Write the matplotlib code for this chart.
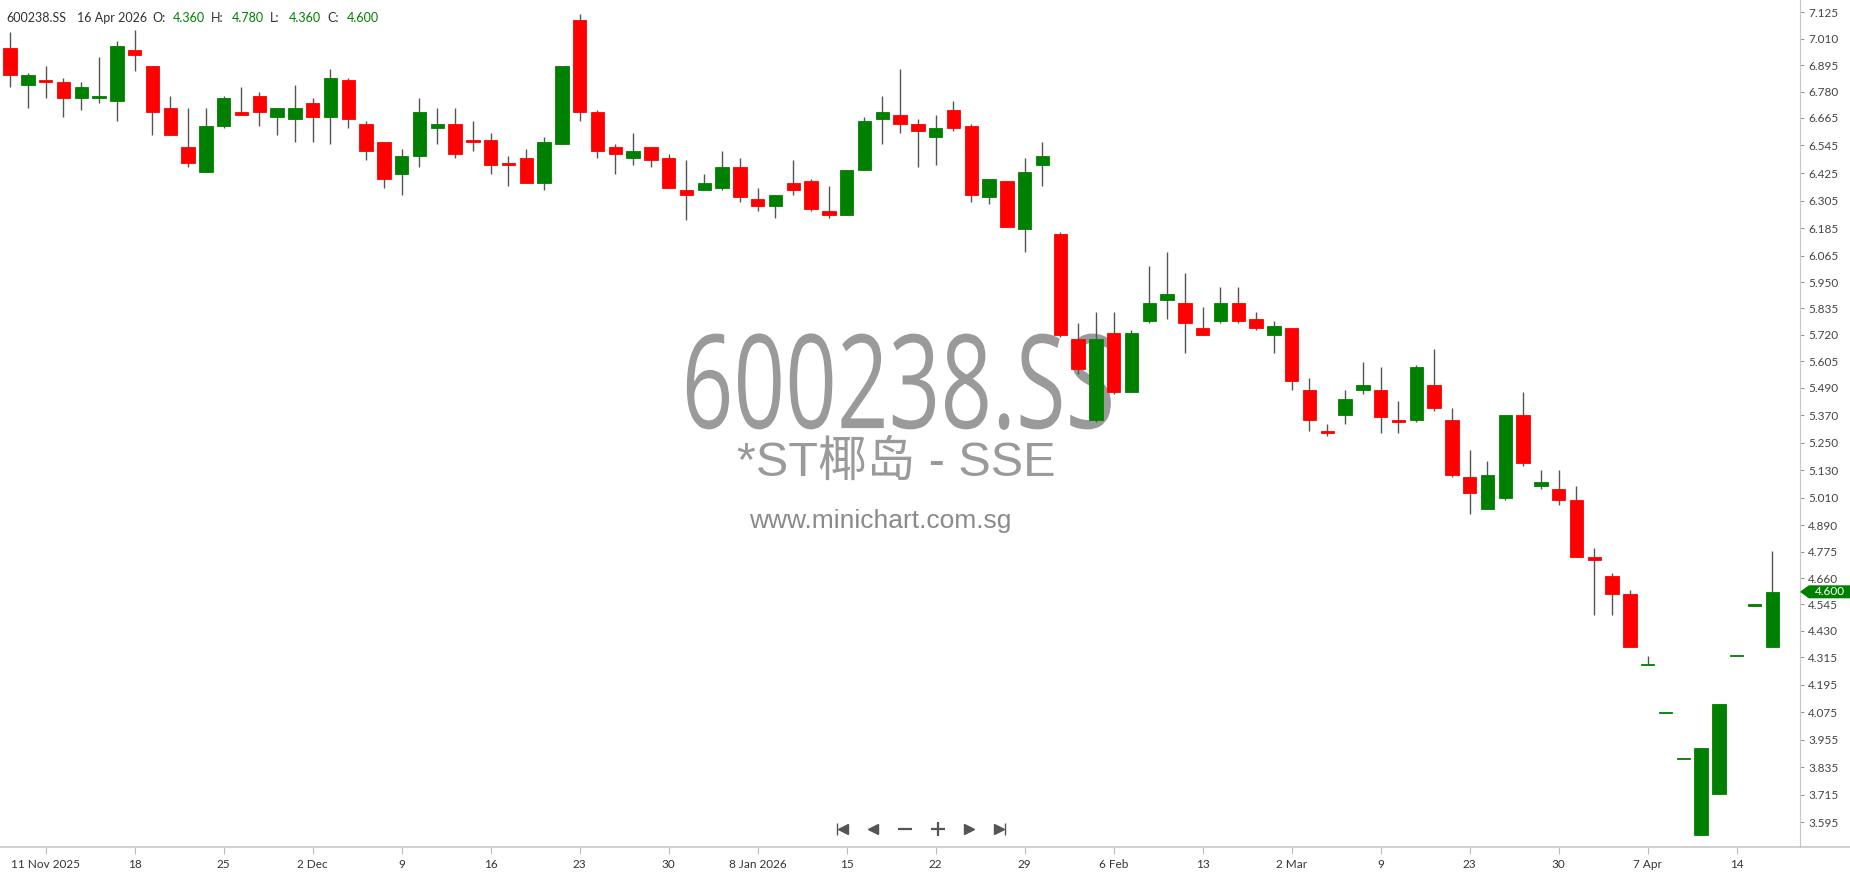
import matplotlib
matplotlib.use("Agg")
import matplotlib.pyplot as plt
from matplotlib.lines import Line2D
from matplotlib.patches import Polygon
import matplotlib.patheffects as pe
import matplotlib.transforms as mtransforms

##### DATA #####

opens = [6.97, 6.81, 6.83, 6.82, 6.75, 6.75, 6.74, 6.96, 6.89, 6.71,
         6.54, 6.43, 6.63, 6.69, 6.76, 6.67, 6.66, 6.73, 6.67, 6.83,
         6.64, 6.56, 6.42, 6.50, 6.62, 6.64, 6.57, 6.57, 6.47, 6.49,
         6.38, 6.55, 7.09, 6.69, 6.54, 6.49, 6.54, 6.49, 6.35, 6.35,
         6.36, 6.45, 6.31, 6.28, 6.38, 6.39, 6.26, 6.24, 6.44, 6.66,
         6.68, 6.64, 6.58, 6.70, 6.63, 6.32, 6.39, 6.18, 6.46, 6.16,
         5.70, 5.35, 5.73, 5.47, 5.78, 5.87, 5.86, 5.75, 5.78, 5.86,
         5.79, 5.72, 5.75, 5.48, 5.30, 5.37, 5.48, 5.48, 5.35, 5.35,
         5.50, 5.35, 5.10, 4.96, 5.01, 5.37, 5.06, 5.05, 5.00, 4.75,
         4.67, 4.59, 4.28, 4.07, 3.87, 3.54, 3.72, 4.32, 4.54, 4.36]
highs = [7.04, 6.86, 6.89, 6.84, 6.82, 6.93, 7.00, 7.05, 6.89, 6.76,
         6.71, 6.71, 6.76, 6.80, 6.78, 6.71, 6.81, 6.75, 6.88, 6.84,
         6.65, 6.56, 6.53, 6.75, 6.71, 6.71, 6.65, 6.60, 6.50, 6.53,
         6.58, 6.89, 7.12, 6.70, 6.55, 6.60, 6.54, 6.51, 6.48, 6.42,
         6.52, 6.49, 6.36, 6.33, 6.48, 6.40, 6.37, 6.44, 6.67, 6.76,
         6.88, 6.66, 6.68, 6.74, 6.64, 6.40, 6.39, 6.49, 6.56, 6.17,
         5.77, 5.82, 5.82, 5.74, 6.02, 6.08, 5.99, 5.84, 5.93, 5.93,
         5.82, 5.78, 5.75, 5.53, 5.33, 5.48, 5.60, 5.58, 5.43, 5.59,
         5.66, 5.40, 5.22, 5.17, 5.37, 5.47, 5.13, 5.13, 5.06, 4.79,
         4.68, 4.61, 4.32, 4.07, 3.87, 3.92, 4.11, 4.32, 4.54, 4.78]
lows = [6.80, 6.71, 6.75, 6.67, 6.70, 6.73, 6.65, 6.87, 6.59, 6.59,
        6.45, 6.43, 6.62, 6.68, 6.63, 6.59, 6.56, 6.56, 6.55, 6.62,
        6.48, 6.36, 6.33, 6.45, 6.55, 6.49, 6.52, 6.42, 6.37, 6.38,
        6.35, 6.55, 6.65, 6.49, 6.42, 6.46, 6.45, 6.36, 6.22, 6.35,
        6.35, 6.30, 6.26, 6.23, 6.33, 6.26, 6.23, 6.24, 6.44, 6.55,
        6.60, 6.45, 6.46, 6.61, 6.30, 6.29, 6.19, 6.08, 6.37, 5.71,
        5.55, 5.34, 5.46, 5.47, 5.77, 5.79, 5.64, 5.72, 5.77, 5.77,
        5.74, 5.64, 5.48, 5.30, 5.28, 5.33, 5.46, 5.29, 5.29, 5.34,
        5.39, 5.10, 4.94, 4.96, 5.00, 5.15, 5.05, 4.98, 4.75, 4.50,
        4.50, 4.36, 4.28, 4.07, 3.87, 3.54, 3.72, 4.32, 4.54, 4.36]
closes = [6.85, 6.85, 6.82, 6.75, 6.80, 6.76, 6.98, 6.94, 6.69, 6.59,
          6.47, 6.63, 6.75, 6.68, 6.69, 6.71, 6.71, 6.67, 6.84, 6.66,
          6.52, 6.40, 6.50, 6.69, 6.64, 6.51, 6.56, 6.46, 6.46, 6.38,
          6.56, 6.89, 6.69, 6.52, 6.51, 6.52, 6.48, 6.36, 6.33, 6.38,
          6.45, 6.32, 6.28, 6.33, 6.35, 6.27, 6.24, 6.44, 6.65, 6.69,
          6.64, 6.61, 6.62, 6.62, 6.33, 6.40, 6.19, 6.43, 6.50, 5.72,
          5.57, 5.70, 5.47, 5.73, 5.86, 5.90, 5.77, 5.72, 5.86, 5.78,
          5.75, 5.76, 5.52, 5.35, 5.29, 5.44, 5.50, 5.36, 5.34, 5.58,
          5.40, 5.11, 5.03, 5.11, 5.37, 5.16, 5.08, 5.00, 4.75, 4.74,
          4.59, 4.36, 4.28, 4.07, 3.87, 3.92, 4.11, 4.32, 4.54, 4.60]

date_labels = ["11 Nov 2025", "18", "25", "2 Dec", "9", "16", "23", "30",
               "8 Jan 2026", "15", "22", "29", "6 Feb", "13", "2 Mar", "9",
               "23", "30", "7 Apr", "14"]
date_index = [2, 7, 12, 17, 22, 27, 32, 37, 42, 47, 52, 57, 62, 67, 72, 77,
              82, 87, 92, 97]

price_ticks = [7.125, 7.010, 6.895, 6.780, 6.665, 6.545, 6.425, 6.305, 6.185,
               6.065, 5.950, 5.835, 5.720, 5.605, 5.490, 5.370, 5.250, 5.130,
               5.010, 4.890, 4.775, 4.660, 4.545, 4.430, 4.315, 4.195, 4.075,
               3.955, 3.835, 3.715, 3.595]

symbol = "600238.SS"
last_date = "16 Apr 2026"

##### STYLE #####

W, H = 1850, 874
UP = "#008000"
DOWN = "#ff0000"
WICK = "#555555"
GRID = "#c8c8c8"
FONT = ["Lato", "DejaVu Sans"]


class Squeeze(pe.AbstractPathEffect):
    """squeeze the glyphs sideways around a point (watermark uses a narrow face)"""

    def __init__(self, sx, cx, cy):
        super().__init__()
        self.t = mtransforms.Affine2D().translate(-cx, -cy).scale(sx, 1.0).translate(cx, cy)

    def draw_path(self, renderer, gc, tpath, affine, rgbFace=None):
        renderer.draw_path(gc, tpath, affine + self.t, rgbFace)


fig = plt.figure(figsize=(W / 100, H / 100), dpi=100)
fig.patch.set_facecolor("white")
ax = fig.add_axes([0, 27 / H, 1800 / W, 847 / H])
ax.set_xlim(-0.567, 100.56)
ax.set_ylim(3.488, 7.179)

xs = list(range(len(opens)))
cols = [UP if c >= o else DOWN for o, c in zip(opens, closes)]
bottoms = [min(o, c) for o, c in zip(opens, closes)]
heights = [max(abs(c - o), 0.005) for o, c in zip(opens, closes)]

ax.vlines(xs, lows, highs, color=WICK, linewidth=1.0, zorder=2)
ax.bar(xs, heights, bottom=bottoms, width=0.75, color=cols,
       edgecolor=cols, linewidth=0.6, zorder=3)

# axes look
for s in ["top", "left", "bottom"]:
    ax.spines[s].set_visible(False)
ax.spines["right"].set_color(GRID)
fig.add_artist(Line2D([0, 1], [27 / H, 27 / H], color=GRID, linewidth=1.2))

ax.yaxis.tick_right()
ax.set_yticks(price_ticks)
ax.set_yticklabels([f"{t:.3f}" for t in price_ticks])
ax.tick_params(axis="y", length=3, width=0.8, color="#999999", pad=3,
               labelsize=8.5, labelcolor="#444444")
ax.set_xticks(date_index)
ax.set_xticklabels(date_labels)
ax.tick_params(axis="x", length=5, width=0.8, color="#bbbbbb", pad=4,
               labelsize=8.5, labelcolor="#333333")
for lab in ax.get_xticklabels() + ax.get_yticklabels():
    lab.set_family(FONT)

# watermark
wm_x, wm_y = 0.499, 0.535
big = ax.text(wm_x, wm_y, symbol, transform=ax.transAxes, ha="center",
              va="center", fontsize=94, color="#9a9a9a",
              family=["Open Sans", "DejaVu Sans"], zorder=1)
renderer = fig.canvas.get_renderer()
natural_w = big.get_window_extent(renderer).width
cx, cy = ax.transAxes.transform((wm_x, wm_y))
big.set_path_effects([Squeeze(433 / natural_w, cx, cy)])

ax.text(0.4978, 0.453, "*ST椰岛 - SSE", transform=ax.transAxes, ha="center",
        va="center", fontsize=35, color="#9a9a9a",
        family=["Liberation Sans", "Noto Sans CJK SC"], zorder=1)
ax.text(880 / 1800, 0.385, "www.minichart.com.sg", transform=ax.transAxes,
        ha="center", va="center", fontsize=19, color="#8a8a8a",
        family=["Liberation Sans", "DejaVu Sans"], zorder=1)

# header line
head = [(6.7, symbol, "#333333"), (77, last_date, "#333333"),
        (152, "O:", "#333333"), (173, f"{opens[-1]:.3f}", UP),
        (211, "H:", "#333333"), (232, f"{highs[-1]:.3f}", UP),
        (270, "L:", "#333333"), (289, f"{lows[-1]:.3f}", UP),
        (327, "C:", "#333333"), (347, f"{closes[-1]:.3f}", UP)]
for px, txt, c in head:
    fig.text(px / W, 1 - 18 / H, txt, ha="left", va="center", fontsize=9,
             color=c, family=FONT)

# last price tag on the right axis
tr = mtransforms.blended_transform_factory(fig.transFigure, ax.transData)
last = closes[-1]
hh = 5.8 / 229.5
tag = Polygon([(1801 / W, last), (1809 / W, last + hh), (1.0, last + hh),
               (1.0, last - hh), (1809 / W, last - hh)], closed=True,
              transform=tr, facecolor=UP, edgecolor=UP, clip_on=False)
fig.add_artist(tag)
fig.text(1830 / W, last, f"{last:.3f}", transform=tr, ha="center", va="center",
         fontsize=8.5, color="white", family=FONT)

# navigation buttons
ny = 1 - 829 / H
nav = dict(color="#555555", transform=fig.transFigure)
fig.add_artist(Line2D([837 / W], [ny], marker="|", markersize=9, **nav))
fig.add_artist(Line2D([843 / W], [ny], marker="<", markersize=7, linestyle="", **nav))
fig.add_artist(Line2D([873 / W], [ny], marker="<", markersize=7, linestyle="", **nav))
fig.add_artist(Line2D([905 / W], [ny], marker="_", markersize=10, mew=1.6, **nav))
fig.add_artist(Line2D([938 / W], [ny], marker="+", markersize=10, mew=1.6, **nav))
fig.add_artist(Line2D([969 / W], [ny], marker=">", markersize=7, linestyle="", **nav))
fig.add_artist(Line2D([999 / W], [ny], marker=">", markersize=7, linestyle="", **nav))
fig.add_artist(Line2D([1005 / W], [ny], marker="|", markersize=9, **nav))

fig.savefig("out.png", dpi=100, facecolor="white")
